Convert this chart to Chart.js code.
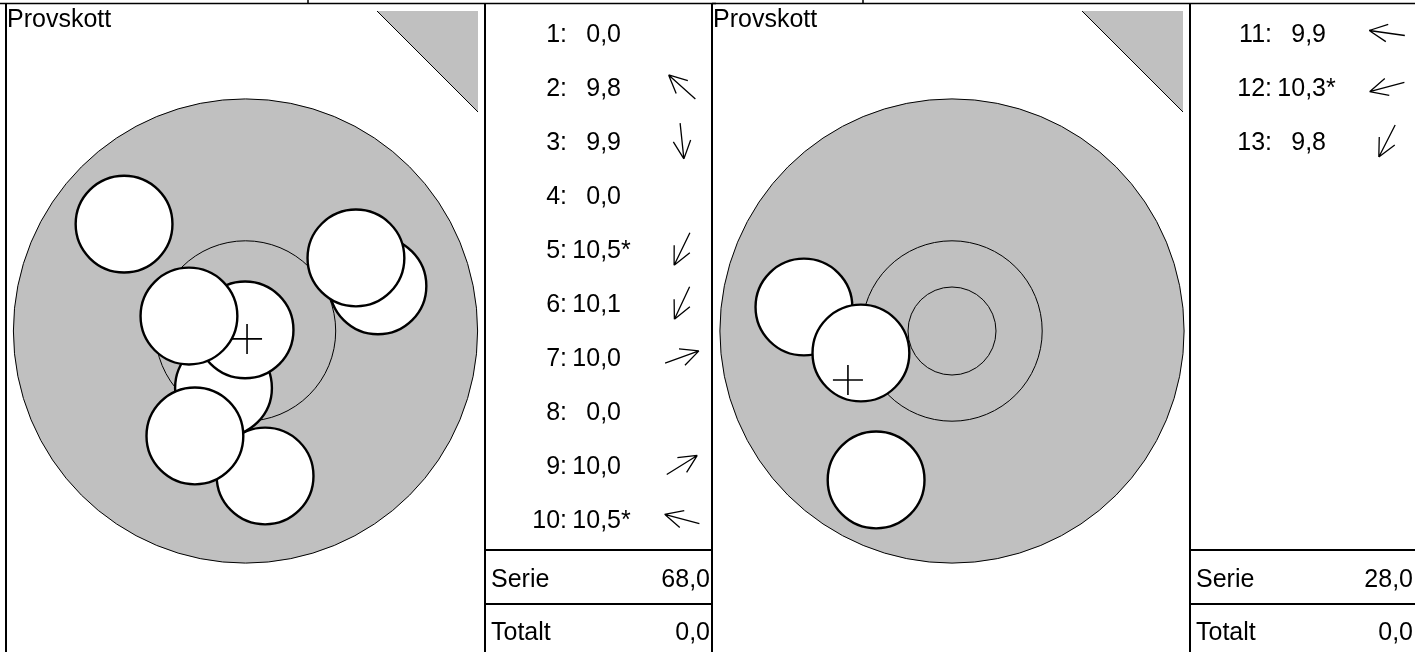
<!DOCTYPE html>
<html>
<head>
<meta charset="utf-8">
<title>Provskott</title>
<script src="https://cdn.jsdelivr.net/npm/chart.js@4.4.1/dist/chart.umd.min.js"></script>
<style>
  html, body { margin: 0; padding: 0; background: #fff; }
  #wrap { position: relative; width: 1415px; height: 652px; overflow: hidden; }
  canvas { position: absolute; top: 0; }
  #panel1 { left: 0; }
  #panel2 { left: 712px; }
</style>
</head>
<body>
<div id="wrap">
  <canvas id="panel1" width="716" height="652"></canvas>
  <canvas id="panel2" width="703" height="652"></canvas>
</div>
<script>
// === DATA ===
const titleText = "Provskott";

// target rings (radius, mm) and shot hole radius
const ringRadii = [10.55, 4.1, 2.0];
const shotRadius = 2.2;

// shot holes, mm from target centre (y up), in drawing order
const shots1 = [
  { x: -5.52, y: 4.86 },
  { x: 6.02, y: 2.05 },
  { x: 5.02, y: 3.32 },
  { x: 0.89, y: -6.59 },
  { x: -1.0, y: -2.59 },
  { x: -0.02, y: 0.05 },
  { x: -2.57, y: 0.68 },
  { x: -2.3, y: -4.77 },
];
const mean1 = [{ x: 0.07, y: -0.36 }];

const shots2 = [
  { x: -6.73, y: 1.09 },
  { x: -4.14, y: -1.0 },
  { x: -3.45, y: -6.77 },
];
const mean2 = [{ x: -4.73, y: -2.23 }];

// shot list
const shotNo1 = [1, 2, 3, 4, 5, 6, 7, 8, 9, 10];
const score1 = [0.0, 9.8, 9.9, 0.0, 10.5, 10.1, 10.0, 0.0, 10.0, 10.5];
const inner1 = [false, false, false, false, true, false, false, false, false, true];
const arrow1 = [null, 138, 276, null, 244, 245, 20, null, 32, 165]; // degrees, 0 = right

const shotNo2 = [11, 12, 13];
const score2 = [9.9, 10.3, 9.8];
const inner2 = [false, true, false];
const arrow2 = [172, 195, 243];

const serie = [68.0, 28.0];
const totalt = [0.0, 0.0];

// === HELPERS ===
const AXIS = 240 / 22;
const FONT = '25px "Liberation Sans", Arial, sans-serif';
const fmt = (v) => v.toFixed(1).replace(".", ",");

function mmToPx(chart, mm) {
  const s = chart.scales.x;
  return Math.abs(s.getPixelForValue(mm) - s.getPixelForValue(0));
}

function drawArrow(ctx, cx, cy, deg) {
  const a = (deg * Math.PI) / 180;
  const dx = Math.cos(a) * 18, dy = -Math.sin(a) * 18;
  const hx = cx + dx, hy = cy + dy;
  ctx.beginPath();
  ctx.moveTo(cx - dx, cy - dy);
  ctx.lineTo(hx, hy);
  for (const s of [-1, 1]) {
    const b = a + Math.PI + s * 0.45;
    ctx.moveTo(hx, hy);
    ctx.lineTo(hx + Math.cos(b) * 20, hy - Math.sin(b) * 20);
  }
  ctx.stroke();
}

// frame, corner mark and shot list, drawn behind the target
const framePlugin = {
  id: "frame",
  beforeDatasetsDraw(chart, args, o) {
    const ctx = chart.ctx;
    const H = chart.height;
    ctx.save();
    ctx.strokeStyle = "#000";
    ctx.fillStyle = "#000";

    // outer lines
    ctx.lineWidth = 1.5;
    ctx.beginPath();
    ctx.moveTo(0, 3.5);
    ctx.lineTo(chart.width, 3.5);
    ctx.moveTo(o.headerTick, 0);
    ctx.lineTo(o.headerTick, 3.5);
    ctx.stroke();

    ctx.lineWidth = 2;
    ctx.beginPath();
    if (o.boxLeft > 0) {
      ctx.moveTo(o.boxLeft, 3.5);
      ctx.lineTo(o.boxLeft, H);
    }
    ctx.moveTo(o.boxRight, 3.5);
    ctx.lineTo(o.boxRight, H);
    ctx.moveTo(o.listRight, 3.5);
    ctx.lineTo(o.listRight, H);
    ctx.moveTo(o.boxRight, 550);
    ctx.lineTo(o.listRight, 550);
    ctx.moveTo(o.boxRight, 604);
    ctx.lineTo(o.listRight, 604);
    ctx.stroke();

    // corner triangle
    const tr = o.boxRight - 7;
    ctx.fillStyle = "#c0c0c0";
    ctx.beginPath();
    ctx.moveTo(tr - 101, 11);
    ctx.lineTo(tr, 11);
    ctx.lineTo(tr, 112);
    ctx.closePath();
    ctx.fill();
    ctx.lineWidth = 1;
    ctx.beginPath();
    ctx.moveTo(tr - 101, 11);
    ctx.lineTo(tr, 112);
    ctx.stroke();

    // title
    ctx.fillStyle = "#000";
    ctx.font = FONT;
    ctx.textBaseline = "alphabetic";
    ctx.textAlign = "left";
    ctx.fillText(titleText, o.boxLeft + 1, 27);

    // shot rows
    const L = o.boxRight;
    ctx.lineWidth = 1.3;
    o.numbers.forEach((n, i) => {
      const cy = 33 + i * 54;
      ctx.textAlign = "right";
      ctx.fillText(n + ":", L + 82, cy + 9);
      ctx.fillText(fmt(o.scores[i]), L + 136, cy + 9);
      if (o.inner[i]) {
        ctx.textAlign = "left";
        ctx.fillText("*", L + 136, cy + 9);
      }
      if (o.arrows[i] !== null) drawArrow(ctx, L + 197, cy, o.arrows[i]);
    });

    // totals
    ctx.textAlign = "left";
    ctx.fillText("Serie", L + 6, 587);
    ctx.fillText("Totalt", L + 6, 640);
    ctx.textAlign = "right";
    ctx.fillText(fmt(o.serie), o.valueRight, 587);
    ctx.fillText(fmt(o.totalt), o.valueRight, 640);
    ctx.restore();
  },
};

function makeTarget(id, shots, mean, padding, frame) {
  const ringStyle = (ctx) => (ctx.dataIndex === 0 ? "#c0c0c0" : "rgba(0,0,0,0)");
  new Chart(document.getElementById(id), {
    type: "scatter",
    data: {
      datasets: [
        {
          label: "mean",
          data: mean,
          order: 0,
          pointStyle: "cross",
          pointRadius: 15,
          borderColor: "#000",
          borderWidth: 1.6,
          clip: false,
        },
        {
          label: "shots",
          data: shots,
          order: 1,
          pointRadius: (ctx) => (ctx.type === "data" ? mmToPx(ctx.chart, shotRadius) : 0),
          backgroundColor: "#fff",
          borderColor: "#000",
          borderWidth: 2.4,
          clip: false,
        },
        {
          label: "rings",
          data: ringRadii.map(() => ({ x: 0, y: 0 })),
          order: 2,
          pointRadius: (ctx) =>
            ctx.type === "data" ? mmToPx(ctx.chart, ringRadii[ctx.dataIndex]) : 0,
          backgroundColor: ringStyle,
          borderColor: "#000",
          borderWidth: 1,
          clip: false,
        },
      ],
    },
    options: {
      responsive: false,
      animation: false,
      events: [],
      layout: { padding, autoPadding: false },
      scales: {
        x: { type: "linear", min: -AXIS, max: AXIS, display: false },
        y: { type: "linear", min: -AXIS, max: AXIS, display: false },
      },
      plugins: {
        legend: { display: false },
        tooltip: { enabled: false },
        frame,
      },
    },
    plugins: [framePlugin],
  });
}

makeTarget("panel1", shots1, mean1,
  { left: 5.5, right: 230.5, top: 91, bottom: 81 },
  {
    boxLeft: 6, boxRight: 485, listRight: 712, valueRight: 710, headerTick: 308,
    numbers: shotNo1, scores: score1, inner: inner1, arrows: arrow1,
    serie: serie[0], totalt: totalt[0],
  });

makeTarget("panel2", shots2, mean2,
  { left: 0, right: 223, top: 91, bottom: 81 },
  {
    boxLeft: 0, boxRight: 478, listRight: 705, valueRight: 701, headerTick: 151,
    numbers: shotNo2, scores: score2, inner: inner2, arrows: arrow2,
    serie: serie[1], totalt: totalt[1],
  });
</script>
</body>
</html>
